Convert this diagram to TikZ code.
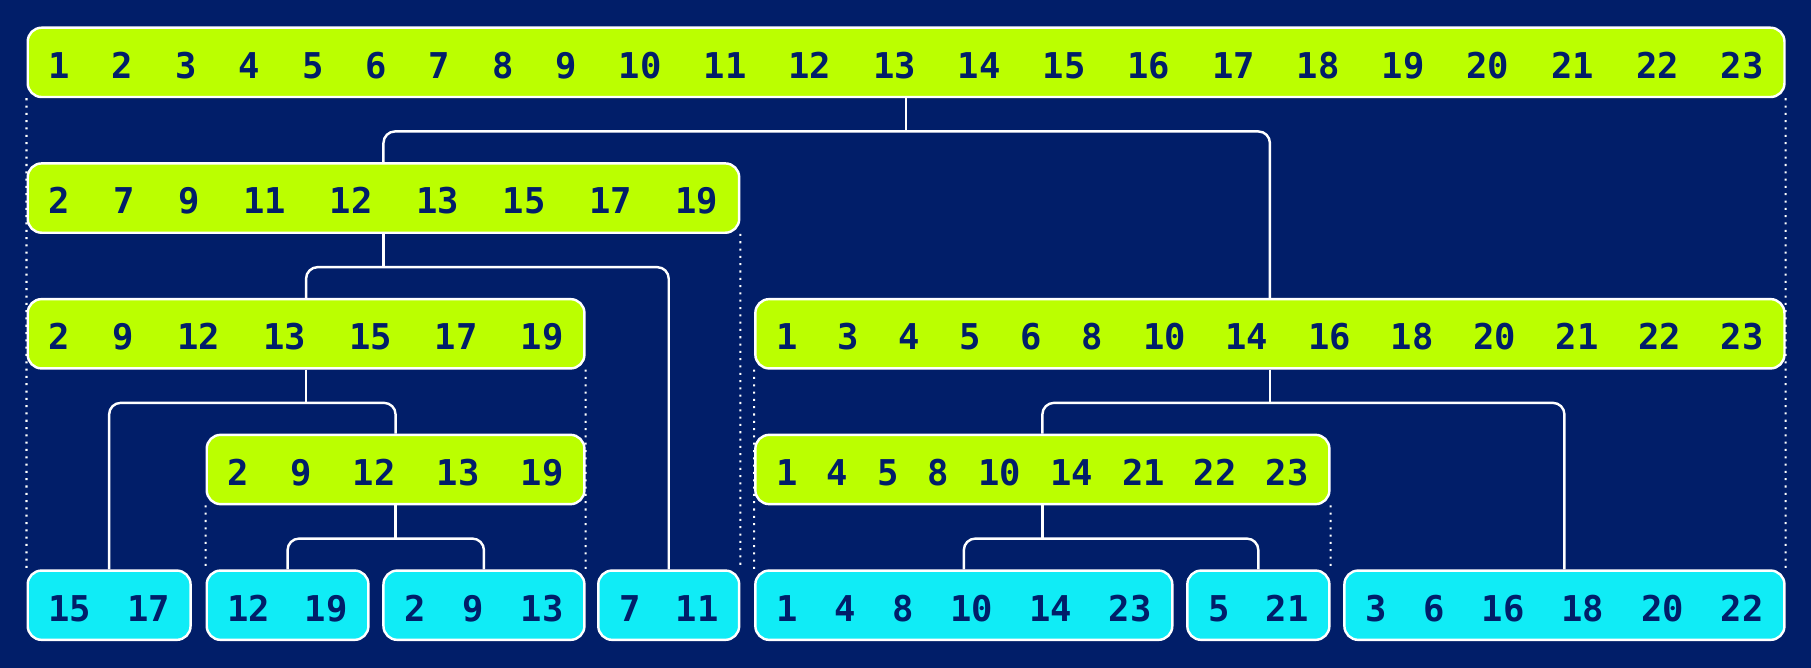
\documentclass[tikz,border=0pt]{standalone}
\usepackage{fontspec}
\newfontfamily\numfont{DejaVu Sans Mono}
\usetikzlibrary{backgrounds}
\definecolor{bgnavy}{RGB}{1,30,105}
\definecolor{setlime}{RGB}{187,255,0}
\definecolor{leafcyan}{RGB}{16,236,246}

\begin{document}
\begin{tikzpicture}
    [inner ysep=0pt,inner xsep=3.6mm,
     setbox/.style={rectangle,rounded corners=2.4mm,draw=white,line width=1.2pt,
       fill=setlime,minimum height=1.2cm,align=left,text=bgnavy,
       text height=0.55cm,text depth=0pt,
       font=\numfont\bfseries\fontsize{17.5}{20}\selectfont},
     leafbox/.style={setbox,fill=leafcyan},
     link/.style={draw=white,line width=1.2pt,rounded corners=2mm},
     guide/.style={draw=white,line width=1pt,dash pattern=on 1pt off 2.6pt}]
    \useasboundingbox (0,0) rectangle (31.36,-11.56);
    % sets
    \node (n)    at (15.69,-1.08)  [setbox,text width=29.70cm] {1\hfill 2\hfill 3\hfill 4\hfill 5\hfill 6\hfill 7\hfill 8\hfill 9\hfill 10\hfill 11\hfill 12\hfill 13\hfill 14\hfill 15\hfill 16\hfill 17\hfill 18\hfill 19\hfill 20\hfill 21\hfill 22\hfill 23};
    \node (nl)   at (6.64,-3.43)   [setbox,text width=11.60cm] {2\hfill 7\hfill 9\hfill 11\hfill 12\hfill 13\hfill 15\hfill 17\hfill 19};
    \node (nll)  at (5.30,-5.78)   [setbox,text width=8.92cm]  {2\hfill 9\hfill 12\hfill 13\hfill 15\hfill 17\hfill 19};
    \node (nr)   at (21.99,-5.78)  [setbox,text width=17.10cm] {1\hfill 3\hfill 4\hfill 5\hfill 6\hfill 8\hfill 10\hfill 14\hfill 16\hfill 18\hfill 20\hfill 21\hfill 22\hfill 23};
    \node (nllr) at (6.85,-8.13)   [setbox,text width=5.82cm]  {2\hfill 9\hfill 12\hfill 13\hfill 19};
    \node (nrl)  at (18.05,-8.13)  [setbox,text width=9.22cm]  {1\hfill 4\hfill 5\hfill 8\hfill 10\hfill 14\hfill 21\hfill 22\hfill 23};
    % leaves
    \node (nlll)  at (1.89,-10.48)  [leafbox,text width=2.10cm] {15\hfill 17};
    \node (nllrl) at (4.98,-10.48)  [leafbox,text width=2.08cm] {12\hfill 19};
    \node (nllrr) at (8.38,-10.48)  [leafbox,text width=2.76cm] {2\hfill 9\hfill 13};
    \node (nlr)   at (11.58,-10.48) [leafbox,text width=1.72cm] {7\hfill 11};
    \node (nrll)  at (16.69,-10.48) [leafbox,text width=6.50cm] {1\hfill 4\hfill 8\hfill 10\hfill 14\hfill 23};
    \node (nrlr)  at (21.79,-10.48) [leafbox,text width=1.74cm] {5\hfill 21};
    \node (nrr)   at (27.09,-10.48) [leafbox,text width=6.90cm] {3\hfill 6\hfill 16\hfill 18\hfill 20\hfill 22};
    % splits
    \draw [link] (n.south) -- ++(0,-0.575);
    \draw [link] (nl.north) |- ([yshift=-0.575cm]n.south) -| (nr.north);
    \draw [link] (nl.south) -- ++(0,-0.575);
    \draw [link] (nll.north) |- ([yshift=-0.575cm]nl.south) -| (nlr.north);
    \draw [link] (nll.south) -- ++(0,-0.575);
    \draw [link] (nlll.north) |- ([yshift=-0.575cm]nll.south) -| (nllr.north);
    \draw [link] (nllr.south) -- ++(0,-0.575);
    \draw [link] (nllrl.north) |- ([yshift=-0.575cm]nllr.south) -| (nllrr.north);
    \draw [link] (nr.south) -- ++(0,-0.575);
    \draw [link] (nrl.north) |- ([yshift=-0.575cm]nr.south) -| (nrr.north);
    \draw [link] (nrl.south) -- ++(0,-0.575);
    \draw [link] (nrll.north) |- ([yshift=-0.575cm]nrl.south) -| (nrlr.north);
    % background and edge guides
    \begin{scope}[on background layer]
      \fill [bgnavy] (0,0) rectangle (31.36,-11.56);
      \draw [guide] (n.south west) -- (nlll.north west);
      \draw [guide] (n.south east) -- (nrr.north east);
      \draw [guide] (nl.south east) -- (nlr.north east);
      \draw [guide] (nll.south east) -- (nllrr.north east);
      \draw [guide] (nllr.south west) -- (nllrl.north west);
      \draw [guide] (nr.south west) -- (nrll.north west);
      \draw [guide] (nrl.south east) -- (nrlr.north east);
    \end{scope}
\end{tikzpicture}
\end{document}
